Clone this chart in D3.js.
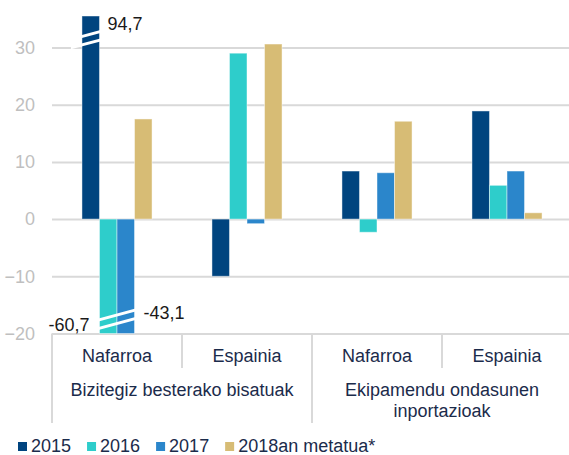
<!DOCTYPE html>
<html>
<head>
<meta charset="utf-8">
<script src="https://cdn.jsdelivr.net/npm/d3@7"></script>
<style>
  body { margin: 0; background: #fff; }
  svg { display: block; font-family: "Liberation Sans", Arial, sans-serif; }
</style>
</head>
<body>
<div id="container"></div>
<script>
// data
var groups = ["Bizitegiz besterako bisatuak", "Ekipamendu ondasunen inportazioak"];
var groupLines = [["Bizitegiz besterako bisatuak"], ["Ekipamendu ondasunen", "inportazioak"]];
var regions = ["Nafarroa", "Espainia"];
var categories = ["Nafarroa|0", "Espainia|0", "Nafarroa|1", "Espainia|1"];
var series = ["2015", "2016", "2017", "2018an metatua*"];
var v2015 = [94.7, -10.0, 8.4, 18.9];
var v2016 = [-60.7, 29.0, -2.3, 5.9];
var v2017 = [-43.1, -0.8, 8.1, 8.4];
var v2018 = [17.5, 30.6, 17.1, 1.1];
var yTicks = [-20, -10, 0, 10, 20, 30];
var colors = ["#00447f", "#2ecdcb", "#2b86cb", "#d7bc75"];

var values = [v2015, v2016, v2017, v2018];

const width = 569;
const height = 455;

const svg = d3.select("div#container").append("svg")
    .attr("width", width)
    .attr("height", height);

//----------------------------SCALES----------------------------//
const x0 = d3.scaleBand().domain(categories).range([52, 572]);
const x1 = d3.scaleBand().domain(series).range([0, x0.bandwidth()]).paddingOuter(1.71);
// axis stops at 35.5, the long bars are cut and marked with a break
const yScale = d3.scaleLinear().domain([-20, 35.5]).range([333.5, 16]).clamp(true);

//-----------------------------GRID-----------------------------//
const yaxis = d3.axisLeft(yScale)
    .tickValues(yTicks)
    .tickSize(-(width - 52))
    .tickPadding(17)
    .tickFormat(d3.format("d"));

svg.append("g")
    .attr("class", "axis")
    .attr("transform", "translate(52,0)")
    .call(yaxis)
    .call(g => g.select(".domain").remove())
    .call(g => g.selectAll("line").attr("stroke", "#d9d9d9").attr("stroke-width", 2))
    .call(g => g.selectAll("text")
        .attr("fill", "#bfbfbf")
        .style("font-size", "18px")
        .style("font-family", "'Liberation Sans', Arial, sans-serif"));

//----------------------------BARS------------------------------//
const rows = categories.map(function(c, i) {
    return {cat: c, vals: series.map(function(s, j) { return {s: s, v: values[j][i], c: colors[j]}; })};
});

const gBars = svg.selectAll(".cat")
    .data(rows)
    .enter()
    .append("g")
    .attr("transform", d => "translate(" + x0(d.cat) + ",0)");

gBars.selectAll("rect")
    .data(d => d.vals)
    .enter()
    .append("rect")
    .attr("x", d => x1(d.s))
    .attr("width", x1.bandwidth())
    .attr("y", d => Math.min(yScale(d.v), yScale(0)))
    .attr("height", d => Math.abs(yScale(d.v) - yScale(0)))
    .attr("fill", d => d.c)
    .attr("stroke", "rgba(255,255,255,0.45)")
    .attr("stroke-width", 1);

//---------------------------BREAKS-----------------------------//
// two white slanted stripes over the bars that run off the axis
function breakMark(xa, xb, yMid, extraLeft) {
    const slope = -0.27;
    const th = 3;
    [-4.2, 4.2].forEach(function(off, k) {
        const xl = xa - (k == 1 ? extraLeft : 0) - 1;
        const xr = xb + 1;
        const xm = (xa + xb) / 2;
        const yl = yMid + off + (xl - xm) * slope;
        const yr = yMid + off + (xr - xm) * slope;
        svg.append("polygon")
            .attr("points", [[xl, yl - th / 2], [xr, yr - th / 2], [xr, yr + th / 2], [xl, yl + th / 2]].join(" "))
            .attr("fill", "#fff");
    });
}
const c0 = categories[0];
breakMark(x0(c0) + x1(series[0]), x0(c0) + x1(series[0]) + x1.bandwidth(), yScale(31.6), 10);
breakMark(x0(c0) + x1(series[1]), x0(c0) + x1(series[2]) + x1.bandwidth(), yScale(-17.5), 0);

//---------------------------LABELS-----------------------------//
const fmt = v => String(v.toFixed(1)).replace(".", ",");
const lab = svg.append("g")
    .style("font-size", "18px")
    .attr("fill", "#1a1a1a")
    .attr("dominant-baseline", "middle");

lab.append("text")
    .attr("x", x0(c0) + x1(series[0]) + x1.bandwidth() + 8)
    .attr("y", 25)
    .text(fmt(v2015[0]));
lab.append("text")
    .attr("x", x0(c0) + x1(series[1]) - 10)
    .attr("y", 326)
    .attr("text-anchor", "end")
    .text(fmt(v2016[0]));
lab.append("text")
    .attr("x", x0(c0) + x1(series[2]) + x1.bandwidth() + 9)
    .attr("y", 314)
    .text(fmt(v2017[0]));

//------------------------CATEGORY AXIS-------------------------//
const axisCol = "#d9d9d9";
const txtCol = "#1b2b4b";
const cat = svg.append("g");

categories.forEach(function(c, i) {
    const xa = x0(c);
    // separators: long ones between groups, short ones inside
    cat.append("line")
        .attr("x1", xa).attr("x2", xa)
        .attr("y1", 333.5).attr("y2", i % 2 == 0 ? 423 : 368)
        .attr("stroke", axisCol).attr("stroke-width", 2);
    cat.append("text")
        .attr("x", xa + x0.bandwidth() / 2)
        .attr("y", 357)
        .attr("text-anchor", "middle")
        .attr("dominant-baseline", "middle")
        .attr("fill", txtCol)
        .style("font-size", "18px")
        .text(regions[i % 2]);
});

groupLines.forEach(function(lines, g) {
    const xm = x0(categories[g * 2]) + x0.bandwidth();
    lines.forEach(function(t, k) {
        cat.append("text")
            .attr("x", xm)
            .attr("y", 391 + k * 21)
            .attr("text-anchor", "middle")
            .attr("dominant-baseline", "middle")
            .attr("fill", txtCol)
            .style("font-size", "18px")
            .text(t);
    });
});

//----------------------------LEGEND----------------------------//
const legend = svg.append("g").attr("transform", "translate(18,447)");
let lx = 0;
series.forEach(function(s, i) {
    const item = legend.append("g").attr("transform", "translate(" + lx + ",0)");
    item.append("rect")
        .attr("x", 0).attr("y", -5)
        .attr("width", 9).attr("height", 9)
        .attr("fill", colors[i]);
    const t = item.append("text")
        .attr("x", 13)
        .attr("dominant-baseline", "middle")
        .attr("fill", txtCol)
        .style("font-size", "18px")
        .text(s);
    lx += 13 + t.node().getComputedTextLength() + 16;
});
</script>
</body>
</html>
